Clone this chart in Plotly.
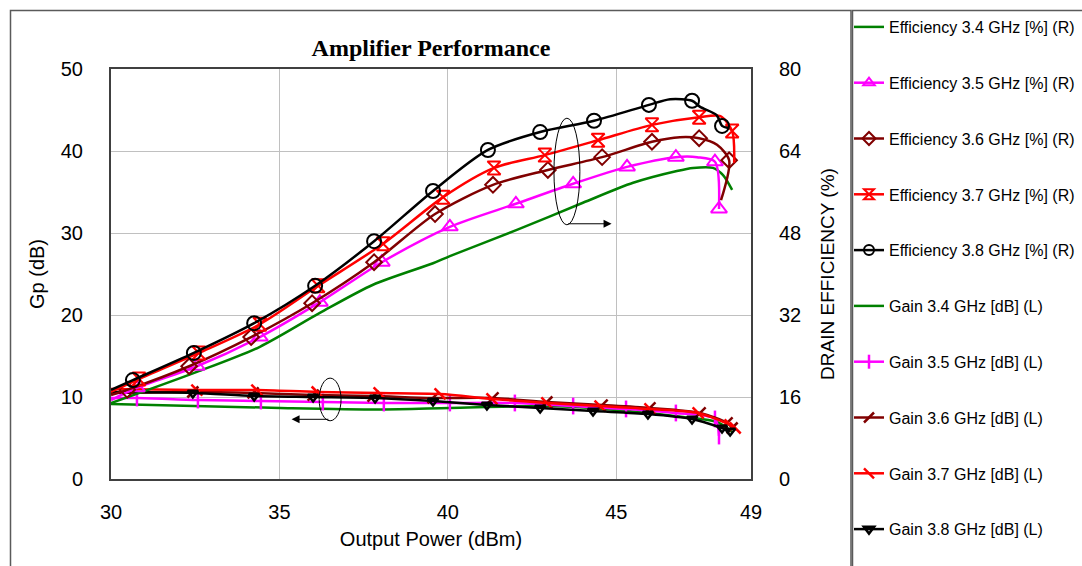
import plotly.graph_objects as go

# ---------------- data ----------------
# Drain efficiency (%) vs output power (dBm), right axis
pout_eff_34 = [30.0, 32.55, 34.42, 36.20, 37.78, 39.56, 40.06, 42.05, 44.01, 45.50, 46.80, 47.28, 47.87, 48.17, 48.44]
eff_34 = [14.8, 20.9, 25.8, 32.4, 37.9, 42.1, 43.5, 48.6, 53.9, 57.8, 60.1, 60.7, 60.7, 59.3, 56.4]

pout_eff_35 = [30.0, 30.77, 32.55, 34.42, 36.20, 38.04, 40.06, 42.02, 43.72, 45.32, 46.77, 47.40, 47.93, 48.05]
eff_35 = [15.4, 17.8, 22.0, 27.7, 34.5, 42.3, 49.2, 53.7, 57.6, 60.9, 62.8, 62.8, 61.9, 52.7]
marks_eff_35 = [1, 2, 3, 4, 5, 6, 7, 8, 9, 10, 12, 13]

pout_eff_36 = [30.0, 30.48, 32.32, 34.16, 35.97, 37.81, 39.62, 41.34, 42.97, 44.58, 46.06, 46.89, 47.46, 47.99, 48.35, 48.11]
eff_36 = [16.4, 17.4, 22.0, 27.7, 34.3, 42.3, 51.7, 57.4, 60.3, 62.8, 65.8, 66.7, 66.5, 65.2, 62.2, 54.4]
marks_eff_36 = [1, 2, 3, 4, 5, 6, 7, 8, 9, 10, 12, 14]

pout_eff_37 = [30.0, 30.83, 32.61, 34.42, 36.15, 38.08, 39.86, 41.37, 42.88, 44.46, 46.06, 47.46, 48.09, 48.44, 48.50]
eff_37 = [17.0, 19.5, 24.6, 30.2, 37.7, 45.9, 55.0, 60.7, 63.2, 66.1, 69.1, 70.6, 70.8, 67.9, 61.7]
marks_eff_37 = [1, 2, 3, 4, 5, 6, 7, 8, 9, 10, 11, 13]

pout_eff_38 = [30.0, 30.65, 32.46, 34.25, 36.06, 37.81, 39.56, 41.19, 42.74, 44.34, 45.97, 46.60, 47.25, 47.49, 47.98, 48.14, 48.32]
eff_38 = [17.4, 19.3, 24.6, 30.4, 37.7, 46.4, 56.2, 64.2, 67.7, 69.9, 73.0, 74.1, 73.8, 72.6, 71.0, 68.9, 68.5]
marks_eff_38 = [1, 2, 3, 4, 5, 6, 7, 8, 9, 10, 12, 15]

# Power gain Gp (dB) vs output power (dBm), left axis
pout_gain_34 = [30.0, 35.02, 37.99, 40.06, 43.03, 45.02, 46.98, 47.99, 48.44]
gain_34 = [9.15, 8.66, 8.48, 8.66, 8.90, 8.41, 7.56, 6.95, 5.73]

pout_gain_35 = [30.0, 30.77, 32.58, 34.45, 36.29, 38.10, 40.06, 41.99, 43.72, 45.29, 46.77, 47.93, 48.05]
gain_35 = [9.88, 9.88, 9.63, 9.51, 9.39, 9.27, 9.27, 9.27, 8.90, 8.54, 8.05, 7.32, 5.24]
marks_gain_35 = [1, 2, 3, 4, 5, 6, 7, 8, 9, 10, 11, 12]

pout_gain_36 = [30.0, 32.43, 34.22, 36.00, 37.78, 39.56, 41.34, 42.94, 44.58, 46.00, 47.49, 48.29, 48.44]
gain_36 = [10.49, 10.61, 10.49, 10.24, 10.12, 9.88, 9.88, 9.39, 9.02, 8.66, 8.05, 6.83, 6.22]
marks_gain_36 = [1, 2, 3, 4, 5, 6, 7, 8, 9, 10, 11, 12]

pout_gain_37 = [30.0, 32.55, 34.33, 36.12, 37.96, 39.77, 41.31, 42.94, 44.52, 46.00, 47.43, 48.38, 48.53]
gain_37 = [10.98, 10.85, 10.85, 10.61, 10.49, 10.37, 9.76, 9.27, 8.90, 8.54, 8.05, 6.59, 6.22]
marks_gain_37 = [1, 2, 3, 4, 5, 6, 7, 8, 9, 10, 11, 12]

pout_gain_38 = [30.0, 32.43, 34.25, 36.00, 37.84, 39.56, 41.16, 42.74, 44.31, 45.94, 47.25, 48.14, 48.38]
gain_38 = [10.6, 10.49, 10.12, 10.0, 9.88, 9.51, 9.02, 8.66, 8.29, 7.93, 7.32, 6.22, 5.85]
marks_gain_38 = [1, 2, 3, 4, 5, 6, 7, 8, 9, 10, 11, 12]

x_ticks = [30, 35, 40, 45, 49]

GREEN = "#008000"
MAGENTA = "#FF00FF"
MAROON = "#800000"
RED = "#FF0000"
BLACK = "#000000"
FONT = "Arial, Liberation Sans, sans-serif"

fig = go.Figure()
legend_entries = {}


def add_series(name, xs, ys, color, axis, symbol=None, marks=None, msize=12, mline=2):
    fig.add_trace(go.Scatter(
        x=xs, y=ys, yaxis=axis, mode="lines", showlegend=False,
        line=dict(color=color, width=2.5, shape="spline", smoothing=0.8),
        hoverinfo="skip"))
    if symbol is not None and marks:
        fig.add_trace(go.Scatter(
            x=[xs[i] for i in marks], y=[ys[i] for i in marks], yaxis=axis,
            mode="markers", showlegend=False,
            marker=dict(symbol=symbol, size=msize, color=color,
                        line=dict(color=color, width=mline)),
            hoverinfo="skip"))
    # legend entry, added later in the legend's own order
    legend_marker = dict(symbol=symbol, size=min(msize, 10), color=color,
                         line=dict(color=color, width=mline)) if symbol else None
    legend_entries[name] = go.Scatter(
        x=[None], y=[None], yaxis=axis, name=name, legendgroup=name,
        mode="lines+markers" if symbol else "lines",
        line=dict(color=color, width=2.5),
        marker=legend_marker)


# gain curves (left axis)
add_series("Gain 3.4 GHz [dB] (L)", pout_gain_34, gain_34, GREEN, "y")
add_series("Gain 3.5 GHz [dB] (L)", pout_gain_35, gain_35, MAGENTA, "y", "line-ns-open", marks_gain_35, 12, 2.5)
add_series("Gain 3.6 GHz [dB] (L)", pout_gain_36, gain_36, MAROON, "y", "line-ne-open", marks_gain_36, 11, 2.5)
add_series("Gain 3.7 GHz [dB] (L)", pout_gain_37, gain_37, RED, "y", "line-nw-open", marks_gain_37, 11, 2.5)
add_series("Gain 3.8 GHz [dB] (L)", pout_gain_38, gain_38, BLACK, "y", "triangle-down-open", marks_gain_38, 9, 2.5)

# efficiency curves (right axis)
add_series("Efficiency 3.4 GHz [%] (R)", pout_eff_34, eff_34, GREEN, "y2")
add_series("Efficiency 3.5 GHz [%] (R)", pout_eff_35, eff_35, MAGENTA, "y2", "triangle-up-open", marks_eff_35, 14, 2)
add_series("Efficiency 3.6 GHz [%] (R)", pout_eff_36, eff_36, MAROON, "y2", "diamond-open", marks_eff_36, 12, 2)
add_series("Efficiency 3.7 GHz [%] (R)", pout_eff_37, eff_37, RED, "y2", "hourglass-open", marks_eff_37, 13, 2)
add_series("Efficiency 3.8 GHz [%] (R)", pout_eff_38, eff_38, BLACK, "y2", "circle-open", marks_eff_38, 14, 2)

# legend order: efficiency first, then gain
order = ["Efficiency 3.4 GHz [%] (R)", "Efficiency 3.5 GHz [%] (R)", "Efficiency 3.6 GHz [%] (R)",
         "Efficiency 3.7 GHz [%] (R)", "Efficiency 3.8 GHz [%] (R)", "Gain 3.4 GHz [dB] (L)",
         "Gain 3.5 GHz [dB] (L)", "Gain 3.6 GHz [dB] (L)", "Gain 3.7 GHz [dB] (L)", "Gain 3.8 GHz [dB] (L)"]
for name in order:
    fig.add_trace(legend_entries[name])

# plot area spans 111..751 px horizontally, 69..479 px vertically
L, R, T, B = 111, 751, 69, 479
W, H = 1082, 566


def px(xp):
    return (xp - L) / (R - L)


def py(yp):
    return (B - yp) / (B - T)


shapes = [
    # outer frame of the chart
    dict(type="rect", xref="paper", yref="paper", x0=px(10.5), x1=px(851), y0=py(600), y1=py(10.5),
         line=dict(color="#5a5a5a", width=1.5), layer="below"),
    # legend frame
    dict(type="rect", xref="paper", yref="paper", x0=px(852.5), x1=px(1100), y0=py(600), y1=py(10.5),
         line=dict(color="#5a5a5a", width=1.5), layer="below"),
    # ellipse marking the efficiency curves
    dict(type="circle", xref="x", yref="y2", x0=43.15, x1=43.92, y0=49.6, y1=70.4,
         line=dict(color=BLACK, width=1)),
    # ellipse marking the gain curves
    dict(type="circle", xref="x", yref="y", x0=36.18, x1=36.83, y0=7.1, y1=12.3,
         line=dict(color=BLACK, width=1)),
]

annotations = [
    dict(x=44.86, y=49.8, ax=43.53, ay=49.8, xref="x", yref="y2", axref="x", ayref="y2",
         text="", showarrow=True, arrowhead=2, arrowsize=1.6, arrowwidth=1, arrowcolor=BLACK),
    dict(x=35.36, y=7.28, ax=36.50, ay=7.28, xref="x", yref="y", axref="x", ayref="y",
         text="", showarrow=True, arrowhead=2, arrowsize=1.6, arrowwidth=1, arrowcolor=BLACK),
]

fig.update_layout(
    width=W, height=H,
    margin=dict(l=L, r=W - R, t=T, b=H - B, autoexpand=False),
    paper_bgcolor="white", plot_bgcolor="white",
    font=dict(family=FONT, size=20, color=BLACK),
    title=dict(text="Amplifier Performance", x=0.5, xref="paper", xanchor="center",
               y=1 - 48 / H, yref="container", yanchor="middle",
               font=dict(family="Times New Roman, Liberation Serif, serif", size=24,
                         weight="bold", color=BLACK)),
    xaxis=dict(range=[30, 49], tickvals=x_ticks, ticks="", showgrid=True,
               gridcolor="#c0c0c0", gridwidth=1, zeroline=False,
               showline=True, linecolor="#404040", linewidth=2, mirror=True,
               ticklabelstandoff=14,
               title=dict(text="Output Power (dBm)", standoff=10, font=dict(size=20))),
    yaxis=dict(range=[0, 50], dtick=10, ticks="", showgrid=True, gridcolor="#c0c0c0",
               gridwidth=1, zeroline=False, showline=True, linecolor="#404040",
               linewidth=2, mirror=True, ticklabelstandoff=22,
               title=dict(text="Gp (dB)", standoff=11, font=dict(size=20))),
    yaxis2=dict(range=[0, 80], dtick=16, ticks="", showgrid=False, zeroline=False,
                overlaying="y", side="right", showline=True, linecolor="#404040",
                linewidth=2, ticklabelstandoff=22,
                title=dict(text="DRAIN EFFICIENCY (%)", standoff=20, font=dict(size=19))),
    legend=dict(x=px(849), y=py(10), xanchor="left", yanchor="top",
                font=dict(family=FONT, size=16, color=BLACK),
                bgcolor="rgba(0,0,0,0)", borderwidth=0, maxheight=560,
                traceorder="grouped", tracegroupgap=32, itemwidth=30),
    shapes=shapes,
    annotations=annotations,
    showlegend=True,
)

fig.write_html("out.html")
